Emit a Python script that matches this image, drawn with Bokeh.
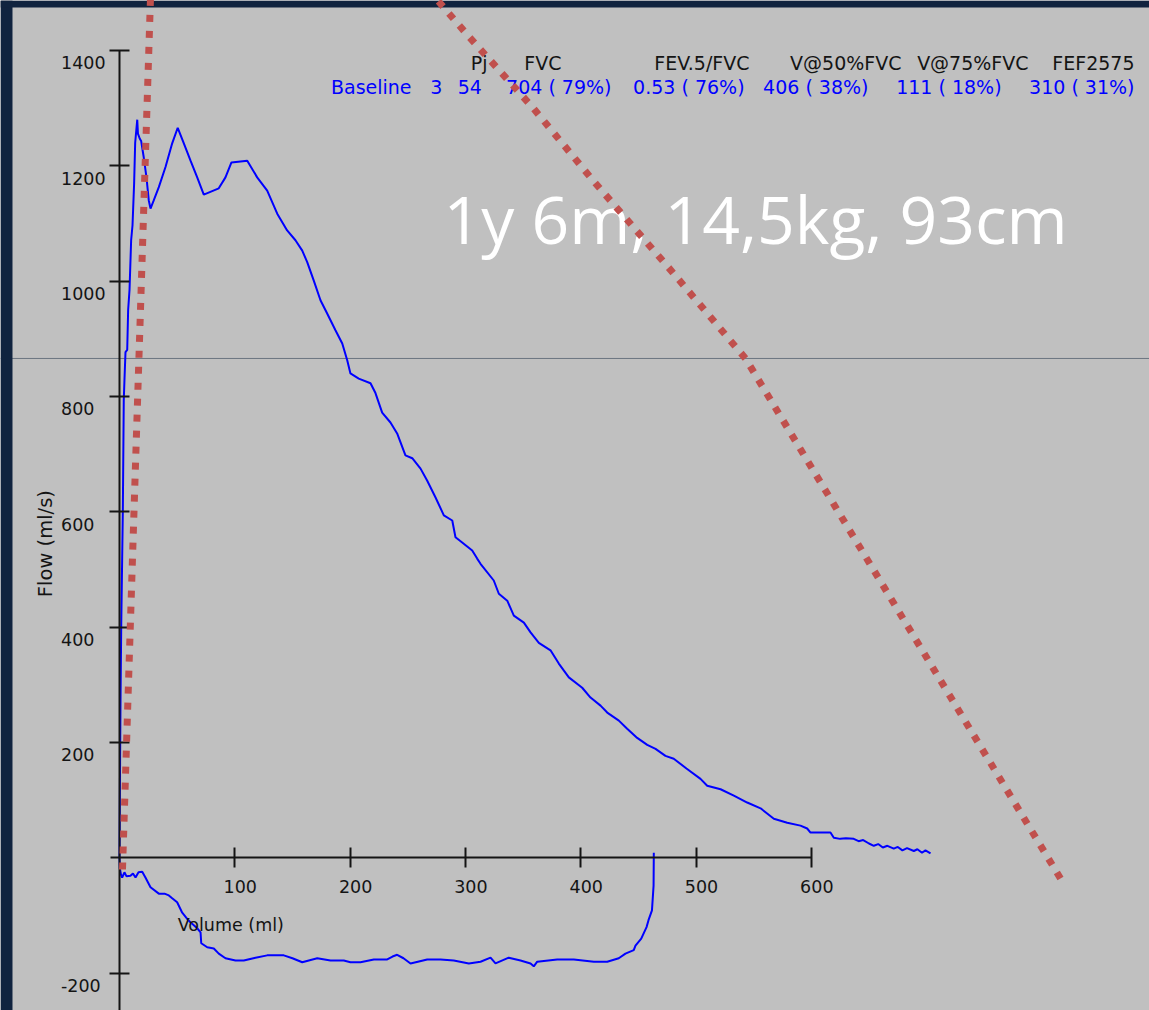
from math import pi

from bokeh.plotting import figure
from bokeh.models import (Range1d, LinearAxis, FixedTicker, Span, Label,
                          BoxAnnotation, CustomJSTickFormatter,
                          ColumnDataSource)
from bokeh.core.properties import value
from bokeh.embed import file_html
from bokeh.resources import INLINE

# ---------------------------------------------------------------- data
# Forced expiration: volume (ml) against flow (ml/s)
exp_volume = [
    0, 0.4, 0.9, 1.5, 2.9, 3.7, 4.3, 5.2, 6.7, 7.5,
    8.7, 10.1, 11.3, 12.7, 13.6, 15.4, 16.0, 17.6, 18.8, 21.1,
    23.4, 25.4, 26.9, 29.7, 34.1, 39.9, 45.7, 50.5, 55.8, 61.6,
    67.4, 73.1, 86.1, 91.9, 97.1, 110.8, 119.4, 128.1, 136.8, 145.4,
    152.6, 158.5, 162.8, 168.5, 174.3, 180.1, 187.3, 193.2, 197.5, 200.3,
    207.5, 217.7, 222.0, 227.8, 235.0, 240.8, 248.0, 253.9, 261.1, 266.9,
    274.1, 281.3, 288.6, 291.4, 297.2, 305.9, 310.2, 313.1, 324.6, 329.0,
    336.3, 342.0, 350.7, 356.5, 363.7, 373.8, 381.0, 389.7, 401.3, 408.5,
    417.2, 423.0, 433.1, 440.3, 449.0, 457.7, 464.9, 473.5, 480.7, 491.7,
    503.9, 509.7, 521.3, 532.8, 544.4, 556.0, 567.5, 579.1, 590.6, 596.4,
    599.3, 616.6, 619.5, 625.0, 630.0, 636.8, 641.0, 645.0, 650.0, 654.2,
    658.0, 662.0, 666.0, 671.5, 675.0, 679.0, 683.0, 688.9, 692.0, 696.0,
    699.0, 703.4,
]
exp_flow = [
    0, 134, 273, 401, 602, 793, 828, 877, 881, 950,
    985, 1071, 1097, 1170, 1240, 1280, 1256, 1247, 1243, 1214,
    1180, 1140, 1126, 1140, 1163, 1198, 1239, 1266, 1239, 1209,
    1180, 1150, 1161, 1180, 1206, 1209, 1180, 1157, 1117, 1088,
    1071, 1053, 1033, 1001, 967, 944, 915, 892, 863, 840,
    831, 823, 806, 772, 755, 736, 698, 693, 675, 654,
    625, 594, 585, 556, 547, 533, 519, 510, 481, 458,
    446, 420, 408, 391, 373, 360, 337, 313, 295, 278,
    264, 252, 238, 224, 208, 196, 189, 177, 172, 155,
    137, 125, 119, 108, 96, 86, 68, 61, 56, 51,
    44, 44, 35, 33, 34, 33, 29, 31, 25, 21,
    24, 18, 21, 16, 19, 13, 17, 12, 15, 9,
    13, 8,
]

# Inspiration: volume (ml) against flow (ml/s), negative flow
insp_volume = [
    0, 0.3, 1.3, 2.3, 4.3, 6.1, 9.5, 11.7, 13.9, 16.5,
    19.7, 22.5, 26.9, 34.1, 39.0, 42.8, 45.7, 50.0, 54.4, 60.1,
    67.4, 70.3, 70.9, 76.1, 81.8, 86.1, 91.9, 100.6, 107.8, 118.0,
    128.1, 142.5, 150.0, 158.5, 171.5, 183.0, 194.5, 200.3, 209.0, 220.6,
    232.2, 236.8, 240.8, 246.3, 252.4, 266.9, 278.4, 289.9, 303.0, 313.1,
    321.8, 326.1, 337.6, 347.8, 356.5, 359.3, 362.3, 379.6, 394.0, 411.4,
    423.0, 433.0, 438.8, 446.0, 447.5, 452.5, 457.1, 458.8, 461.8, 463.2,
    463.4,
]
insp_flow = [
    0, -18, -29, -34, -25, -32, -31, -27, -34, -25,
    -24, -34, -51, -62, -62, -65, -70, -77, -95, -109,
    -122, -129, -148, -155, -157, -166, -174, -178, -178, -173,
    -169, -169, -174, -181, -174, -178, -178, -181, -181, -176,
    -176, -171, -168, -174, -183, -176, -176, -178, -183, -180,
    -173, -183, -173, -178, -183, -188, -180, -176, -176, -180,
    -180, -174, -166, -160, -152, -140, -120, -108, -91, -48,
    9,
]

x_ticks = [100, 200, 300, 400, 500, 600]
y_ticks = [-200, 200, 400, 600, 800, 1000, 1200, 1400]

# Results table
header_names = ["Pj", "FVC", "FEV.5/FVC", "V@50%FVC", "V@75%FVC", "FEF2575"]
trial_name = "Baseline"
trial_count = 3
trial_pj = 54
result_values = ["704", "0.53", "406", "111", "310"]
result_percent = [79, 76, 38, 18, 31]

patient_info = "1y 6m, 14,5kg, 93cm"

# Hand-drawn dotted guide lines (volume, flow)
guide_a_volume = [2.6, 27.1]
guide_a_flow = [-20.1, 1504]
guide_b_volume = [816.1, 542.9, 476.1, 412.0, 358.2, 302.7, 272.3]
guide_b_flow = [-35.7, 866.0, 1023.8, 1171.5, 1301.6, 1424.7, 1495.4]

reference_flow = 866

# ---------------------------------------------------------------- figure
NAVY = "#10233f"
GRAY = "#c0c0c0"
INK = "#141414"
BLUE = "#0000ff"
RED = "#c0504d"
FONT = "DejaVu Sans"

X_LO, X_HI = -103.2, 893.3
Y_LO, Y_HI = -264.6, 1486.7

p = figure(width=1149, height=1010,
           x_range=Range1d(X_LO, X_HI), y_range=Range1d(Y_LO, Y_HI),
           output_backend="svg", toolbar_location=None,
           x_axis_location=None, y_axis_location=None,
           min_border=0, background_fill_color=GRAY,
           border_fill_color=GRAY, outline_line_color=None)
p.grid.visible = False

# thin horizontal reference line across the panel
p.add_layout(Span(location=reference_flow, dimension="width",
                  line_color="#6b7580", line_width=1, level="underlay"))

# dark slide margin on the left and top
p.add_layout(BoxAnnotation(right=-92.8, fill_color=NAVY, fill_alpha=1,
                           line_color=None, level="annotation"))
p.add_layout(BoxAnnotation(bottom=1474.6, fill_color=NAVY, fill_alpha=1,
                           line_color=None, level="annotation"))

# axes crossing at the origin
blank = CustomJSTickFormatter(code="return ''")
axis_style = dict(axis_line_color=INK, axis_line_width=2,
                  major_tick_line_color=INK, major_tick_line_width=2,
                  major_tick_in=10, major_tick_out=10,
                  minor_tick_line_color=None, formatter=blank)
xa = LinearAxis(fixed_location=0, bounds=(-8, 600),
                ticker=FixedTicker(ticks=x_ticks), **axis_style)
ya = LinearAxis(fixed_location=0, bounds=(-300, 1400),
                ticker=FixedTicker(ticks=y_ticks), **axis_style)
p.add_layout(xa, "below")
p.add_layout(ya, "left")

# tick labels
xs = ColumnDataSource(dict(x=x_ticks, y=[0] * len(x_ticks),
                           t=[str(v) for v in x_ticks]))
p.text(x="x", y="y", text="t", source=xs, x_offset=5.5, y_offset=29,
       text_align="center", text_baseline="middle",
       text_font=value(FONT), text_font_size="17.5px", text_color=INK)
ys = ColumnDataSource(dict(x=[-50.7] * len(y_ticks), y=y_ticks,
                           t=[str(v) for v in y_ticks]))
p.text(x="x", y="y", text="t", source=ys, y_offset=12.4,
       text_align="left", text_baseline="middle",
       text_font=value(FONT), text_font_size="17.5px", text_color=INK)

# axis titles
p.add_layout(Label(x=96.5, y=-115.5, text="Volume (ml)",
                   text_align="center", text_baseline="middle",
                   text_font=FONT, text_font_size="17.5px", text_color=INK))
p.add_layout(Label(x=-64.2, y=545, text="Flow (ml/s)", angle=pi / 2,
                   text_align="center", text_baseline="middle",
                   text_font=FONT, text_font_size="19.5px", text_color=INK))

# flow-volume loop
p.line(exp_volume, exp_flow, line_color=BLUE, line_width=2)
p.line(insp_volume, insp_flow, line_color=BLUE, line_width=2)

# results table
header_right = [319.2, 383.3, 546.4, 678.2, 788.4, 880.3]
for name, xr in zip(header_names, header_right):
    p.add_layout(Label(x=xr, y=1377.5, text=name, text_align="right",
                       text_baseline="middle", text_font=FONT,
                       text_font_size="19px", text_color=INK))

row_texts = [trial_name, str(trial_count), str(trial_pj)] + [
    f"{v} ( {pc}%)" for v, pc in zip(result_values, result_percent)]
row_right = [253.3, 280.1, 314.3, 426.7, 542.1, 649.6, 765.0, 880.3]
for txt, xr in zip(row_texts, row_right):
    p.add_layout(Label(x=xr, y=1337.2, text=txt, text_align="right",
                       text_baseline="middle", text_font=FONT,
                       text_font_size="19px", text_color=BLUE))

# patient details
p.add_layout(Label(x=281, y=1110, text=patient_info, text_align="left",
                   text_baseline="middle", text_font="Open Sans",
                   text_font_size="66px", text_color="white"))

# dotted guide lines on top
for gx, gy in ((guide_a_volume, guide_a_flow), (guide_b_volume, guide_b_flow)):
    p.line(gx, gy, line_color=RED, line_width=7, line_dash="7 9",
           line_cap="butt", line_join="miter", level="overlay")

open("out.html", "w").write(file_html(p, INLINE))
